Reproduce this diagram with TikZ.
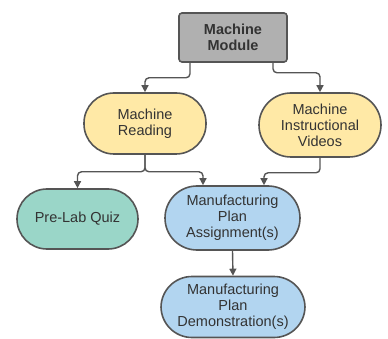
\documentclass[tikz,border=0pt]{standalone}
\usepackage{fontspec}
\setmainfont{Liberation Sans}
\usetikzlibrary{arrows.meta}
\definecolor{edgecol}{HTML}{555555}
\definecolor{txtcol}{HTML}{333333}
\definecolor{graybox}{HTML}{B0B0B0}
\definecolor{yellowbox}{HTML}{FFE9A6}
\definecolor{tealbox}{HTML}{9AD6C8}
\definecolor{bluebox}{HTML}{B2D5F0}
\tikzset{
  base/.style={draw=edgecol, line width=1.6pt, align=center, text=txtcol,
    font=\fontsize{14.5}{16}\selectfont, inner sep=0pt},
  pill/.style={base, rounded corners=#1},
  conn/.style={draw=edgecol, line width=1.4pt, rounded corners=4pt,
    -{Triangle[width=7pt,length=7pt]}}
}
\begin{document}
\begin{tikzpicture}[x=1pt,y=-1pt]
\useasboundingbox (0,0) rectangle (388,339);
\node[base, rounded corners=3pt, fill=graybox, minimum width=108pt, minimum height=49pt,
  font=\fontsize{14.5}{16}\selectfont\bfseries] (mm) at (233,37.5) {Machine\\Module};
\node[pill=30pt, fill=yellowbox, minimum width=122pt, minimum height=61pt] (mr) at (145,123.5) {Machine\\Reading};
\node[pill=32pt, fill=yellowbox, minimum width=122pt, minimum height=64pt] (miv) at (320,125) {Machine\\Instructional\\Videos};
\node[pill=30pt, fill=tealbox, minimum width=121pt, minimum height=60pt] (plq) at (77.5,219) {Pre-Lab Quiz};
\node[pill=32pt, fill=bluebox, minimum width=135pt, minimum height=64pt] (mpa) at (232.5,218) {Manufacturing\\Plan\\Assignment(s)};
\node[pill=31pt, fill=bluebox, minimum width=144pt, minimum height=61pt] (mpd) at (233,307) {Manufacturing\\Plan\\Demonstration(s)};
\draw[conn] ([xshift=-43pt]mm.south) -- ++(0,15) -| (mr.north);
\draw[conn] ([xshift=40pt]mm.south) -- ++(0,10) -| (miv.north);
\draw[conn] (mr.south) -- ++(0,17) -| (plq.north);
\draw[conn] (mr.south) -- ++(0,17) -| ([xshift=-29.5pt]mpa.north);
\draw[conn] (miv.south) -- ++(0,15) -| ([xshift=31.5pt]mpa.north);
\draw[conn] (mpa.south) -- (mpd.north);
\end{tikzpicture}
\end{document}
